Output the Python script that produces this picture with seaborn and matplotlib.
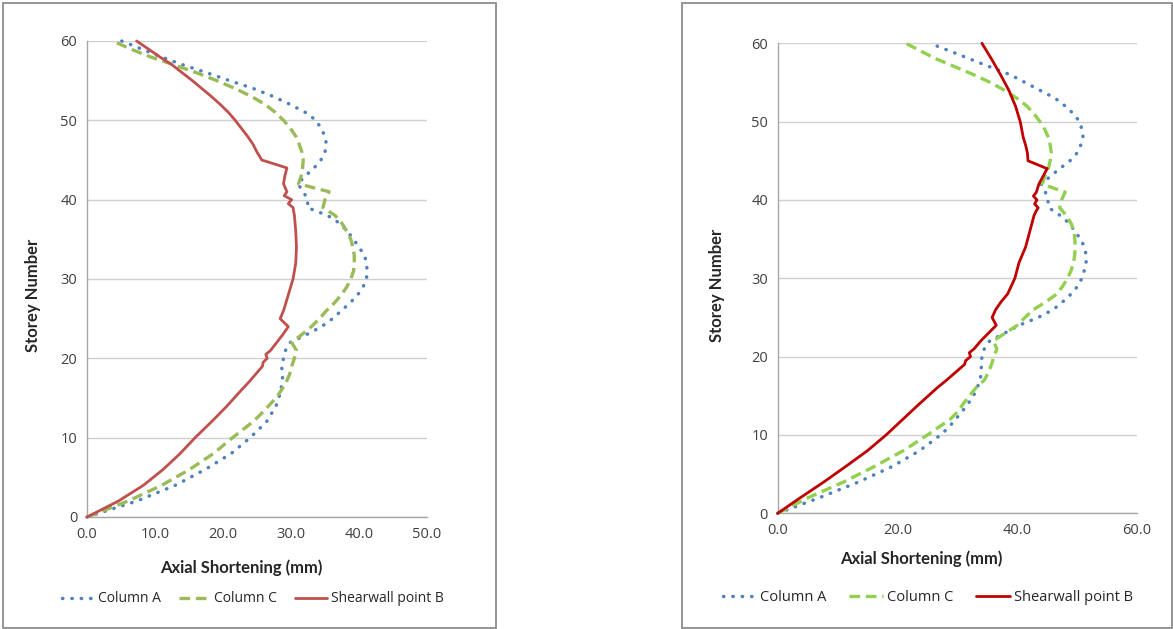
import matplotlib
matplotlib.use("Agg")
import matplotlib.pyplot as plt
import seaborn as sns
import pandas as pd
from matplotlib.patches import Rectangle
from matplotlib.ticker import FormatStrFormatter

# ---- values (axial shortening in mm vs storey) ----
series_names = ["Column A", "Column C", "Shearwall point B"]

# left chart
left_a_storey = [0, 2, 4, 6, 8, 10, 11, 12, 13, 14, 15, 16, 17, 18, 19, 20, 21, 22, 23, 24, 25,
                 26, 27, 28, 29, 30, 31, 32, 33, 34, 35, 36, 37, 38, 39, 40, 41, 42, 43, 44, 45,
                 46, 47, 48, 49, 50, 51, 52, 53, 54, 55, 56, 57, 58, 59, 60]
left_a_mm = [0, 7.3, 13.0, 17.4, 21.2, 24.0, 25.2, 26.4, 27.1, 27.8, 28.2, 28.5, 28.7, 28.8, 28.6,
             28.9, 29.2, 29.9, 32.3, 34.5, 36.1, 37.4, 38.7, 39.8, 40.6, 41.1, 41.2, 41.1, 40.8,
             40.0, 39.2, 38.3, 37.2, 35.4, 32.4, 32.5, 31.8, 31.0, 32.1, 33.4, 34.4, 35.0, 35.2,
             35.0, 34.4, 33.7, 32.1, 29.9, 27.4, 24.5, 21.0, 17.6, 14.1, 10.9, 8.0, 5.1]

left_c_storey = [0, 2, 4, 6, 8, 10, 11, 12, 13, 14, 15, 16, 17, 18, 19, 20, 21, 22, 23, 24, 25,
                 26, 27, 28, 29, 30, 31, 32, 33, 34, 35, 36, 37, 38, 39, 40, 41, 42, 43, 44, 45,
                 46, 47, 48, 49, 50, 51, 52, 53, 54, 55, 56, 57, 58, 59, 60]
left_c_mm = [0, 6.0, 11.0, 15.1, 18.6, 21.4, 22.9, 24.4, 25.6, 26.7, 27.8, 28.6, 29.3, 29.8, 30.1,
             30.5, 30.8, 30.1, 31.6, 33.0, 34.2, 35.2, 36.4, 37.4, 38.2, 38.8, 39.2, 39.3, 39.3,
             39.1, 38.8, 38.2, 37.5, 36.5, 34.7, 35.0, 35.6, 31.1, 31.5, 31.7, 31.8, 31.6, 31.2,
             30.7, 29.9, 28.9, 27.7, 26.2, 24.2, 21.8, 19.1, 16.1, 12.8, 9.3, 6.4, 3.8]

left_b_storey = [0, 2, 4, 6, 8, 10, 12, 14, 16, 17, 18, 19, 19.5, 20, 20.5, 21, 22, 23, 24, 25,
                 26, 28, 30, 32, 34, 36, 38, 39, 39.5, 40, 40.5, 41, 42, 43, 44, 45, 46, 47, 48,
                 49, 50, 51, 52, 53, 54, 55, 56, 57, 58, 59, 60]
left_b_mm = [0, 4.6, 8.3, 11.2, 13.7, 15.9, 18.3, 20.6, 22.7, 23.8, 24.8, 25.8, 25.9, 26.5, 26.3,
             27.0, 27.9, 28.8, 29.6, 28.4, 28.9, 29.6, 30.3, 30.7, 30.8, 30.7, 30.5, 30.3, 29.6,
             30.1, 29.0, 29.4, 28.9, 29.1, 29.4, 25.7, 25.0, 24.4, 23.6, 22.7, 21.8, 20.8, 19.6,
             18.3, 16.9, 15.5, 14.0, 12.5, 10.7, 9.0, 7.3]

# right chart
right_a_storey = [0, 2, 4, 6, 8, 10, 11, 12, 13, 14, 15, 16, 17, 18, 19, 20, 21, 22, 23, 24, 25,
                  26, 27, 28, 29, 30, 31, 32, 33, 34, 35, 36, 37, 38, 39, 40, 41, 42, 43, 44, 45,
                  46, 47, 48, 49, 50, 51, 52, 53, 54, 55, 56, 57, 58, 59, 60]
right_a_mm = [0, 7.0, 13.5, 19.2, 23.7, 27.2, 28.6, 29.7, 30.8, 31.8, 32.7, 33.3, 33.8, 34.0, 34.0,
              34.1, 34.5, 35.4, 37.9, 40.3, 43.5, 46.0, 47.6, 49.0, 50.1, 50.8, 51.2, 51.5, 51.5,
              51.2, 50.6, 49.6, 48.7, 47.2, 45.3, 45.1, 44.7, 44.0, 45.5, 47.1, 48.8, 50.0, 50.6,
              51.0, 50.8, 50.4, 49.4, 48.0, 46.3, 43.8, 41.3, 38.8, 35.4, 32.1, 28.8, 25.4]

right_c_storey = [0, 2, 4, 6, 8, 10, 11, 12, 13, 14, 15, 16, 17, 18, 19, 20, 21, 22, 23, 24, 25,
                  26, 27, 28, 29, 30, 31, 32, 33, 34, 35, 36, 37, 38, 39, 40, 41, 42, 43, 44, 45,
                  46, 47, 48, 49, 50, 51, 52, 53, 54, 55, 56, 57, 58, 59, 60]
right_c_mm = [0, 5.1, 11.0, 16.2, 21.0, 25.0, 26.9, 28.8, 30.1, 31.0, 32.0, 33.1, 34.5, 35.2, 35.7,
              36.1, 36.6, 36.0, 38.0, 40.0, 41.3, 42.7, 44.8, 46.6, 47.6, 48.4, 49.0, 49.4, 49.6,
              49.7, 49.6, 49.5, 49.0, 48.2, 47.1, 47.4, 48.0, 44.2, 44.6, 45.2, 45.5, 45.7, 45.5,
              45.2, 44.6, 43.8, 42.8, 41.6, 39.9, 37.9, 35.5, 32.7, 29.6, 26.5, 23.9, 21.4]

right_b_storey = [0, 2, 4, 6, 8, 10, 12, 14, 16, 17, 18, 19, 19.5, 20, 20.5, 21, 22, 23, 24, 25,
                  26, 27, 28, 30, 32, 34, 36, 38, 38.5, 39, 39.5, 40, 40.5, 41, 42, 43, 44, 45,
                  46, 47, 48, 50, 52, 54, 56, 58, 60]
right_b_mm = [0, 3.8, 7.7, 11.4, 15.0, 18.1, 20.9, 23.7, 26.6, 28.2, 29.7, 31.2, 31.4, 32.2, 32.0,
              32.8, 33.9, 35.2, 36.5, 35.8, 36.4, 37.3, 38.4, 39.6, 40.3, 41.4, 42.1, 42.8, 43.1,
              43.5, 42.9, 43.3, 42.7, 43.2, 43.6, 44.3, 45.0, 41.8, 41.7, 41.4, 41.0, 40.5, 39.7,
              38.6, 37.2, 35.7, 34.1]

x_max = [50, 60]

sns.set_style("white")
plt.rcParams["font.family"] = ["Open Sans", "DejaVu Sans"]

W, H = 1173, 629
fig = plt.figure(figsize=(W / 100, H / 100), dpi=100)

# grey frames around each chart panel
for x0, x1 in [(3, 496), (682, 1172)]:
    fig.patches.append(Rectangle((x0 / W, 1 - 628 / H), (x1 - x0) / W, 625 / H,
                                 transform=fig.transFigure, fill=False,
                                 edgecolor="#8c8c8c", lw=1.3))

ax_l = fig.add_axes([87 / W, (H - 517) / H, 340 / W, 476 / H])
ax_r = fig.add_axes([777.7 / W, (H - 513.3) / H, 359.3 / W, 470 / H])

left_series = [(left_a_mm, left_a_storey), (left_c_mm, left_c_storey), (left_b_mm, left_b_storey)]
right_series = [(right_a_mm, right_a_storey), (right_c_mm, right_c_storey), (right_b_mm, right_b_storey)]

styles_l = [dict(color="#4F81BD", lw=2.5, linestyle=(0, (0.1, 2.6)), dash_capstyle="round"),
            dict(color="#9BBB59", lw=2.4, linestyle=(0, (3.2, 1.7))),
            dict(color="#C0504D", lw=2.0, linestyle="-")]
styles_r = [dict(color="#4F81BD", lw=2.5, linestyle=(0, (0.1, 2.6)), dash_capstyle="round"),
            dict(color="#92D050", lw=2.4, linestyle=(0, (3.2, 1.7))),
            dict(color="#C00000", lw=2.0, linestyle="-")]

# axes, series, styles, x max, xlabel pos, ylabel pos, legend anchor, legend font, col spacing
panels = [(ax_l, left_series, styles_l, x_max[0], (0.453, -0.090), (-0.135, 0.466),
           (0.488, -0.172), 10, 1.3),
          (ax_r, right_series, styles_r, x_max[1], (0.399, -0.078), (-0.146, 0.486),
           (0.417, -0.180), 10.5, 1.6)]

for ax, series, styles, xm, xlab_pos, ylab_pos, leg_pos, leg_fs, leg_cs in panels:
    for name, (mm, storey), st in zip(series_names, series, styles):
        df = pd.DataFrame({"mm": mm, "storey": storey})
        sns.lineplot(data=df, x="mm", y="storey", sort=False, estimator=None,
                     ax=ax, label=name, clip_on=False, zorder=3, **st)

    ax.set_xlim(0, xm)
    ax.set_ylim(0, 60)
    ax.set_xticks(range(0, xm + 1, 10 if xm == 50 else 20))
    ax.set_yticks(range(0, 61, 10))
    ax.xaxis.set_major_formatter(FormatStrFormatter("%.1f"))
    ax.yaxis.grid(True, color="#d0d0d0", lw=1)
    ax.xaxis.grid(False)
    for side in ["top", "right"]:
        ax.spines[side].set_visible(False)
    for side in ["left", "bottom"]:
        ax.spines[side].set_color("#a6a6a6")
        ax.spines[side].set_linewidth(1)
    ax.tick_params(axis="both", direction="out", length=4, width=1, color="#a6a6a6",
                   labelsize=10.5, labelcolor="#404040", pad=3)

    ax.set_xlabel("Axial Shortening (mm)", fontsize=12, fontweight="bold",
                  family=["Lato", "DejaVu Sans"])
    ax.set_ylabel("Storey Number", fontsize=12, fontweight="bold",
                  family=["Lato", "DejaVu Sans"])
    ax.xaxis.set_label_coords(*xlab_pos)
    ax.yaxis.set_label_coords(*ylab_pos)

    ax.legend(loc="center", bbox_to_anchor=leg_pos, ncol=3, frameon=False,
              fontsize=leg_fs, handlelength=2.3, handletextpad=0.25, columnspacing=leg_cs)

fig.savefig("out.png", dpi=100, facecolor="white")
